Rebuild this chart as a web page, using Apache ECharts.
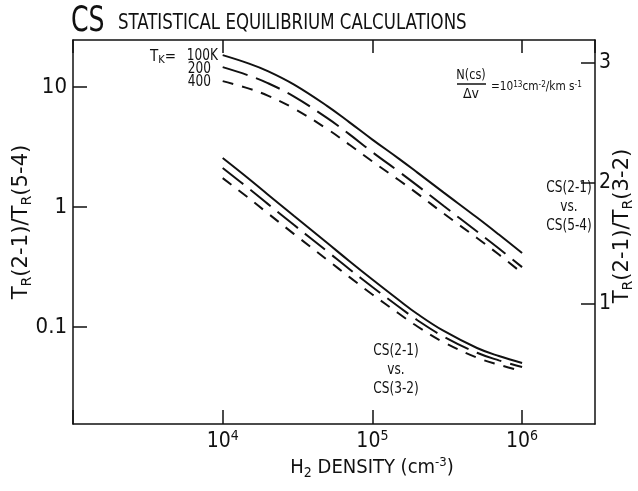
<!DOCTYPE html>
<html><head><meta charset="utf-8">
<script src="https://cdn.jsdelivr.net/npm/echarts@6/dist/echarts.min.js"></script>
<style>html,body{margin:0;padding:0;background:#fff}#c{width:638px;height:491px}</style>
</head><body><div id="c"></div>
<script>
// ---- data ----
const density = [1e4, 1.5e4, 2e4, 3e4, 5e4, 7e4, 1e5, 1.5e5, 2e5, 3e5, 5e5, 7e5, 1e6];
// CS(2-1) vs CS(5-4)  (left log axis)
const r54_100K = [18.48, 15.70, 13.60, 10.49, 6.945, 5.109, 3.652, 2.536, 1.939, 1.321, 0.818, 0.590, 0.414];
const r54_200K = [14.67, 12.47, 10.80, 8.33, 5.51, 4.06, 2.87, 1.98, 1.51, 1.02, 0.625, 0.451, 0.316];
const r54_400K = [11.22, 9.72, 8.50, 6.62, 4.47, 3.32, 2.40, 1.68, 1.295, 0.882, 0.552, 0.402, 0.282];
// CS(2-1) vs CS(3-2)  (right linear axis)
const r32_100K = [2.207, 2.033, 1.905, 1.726, 1.502, 1.353, 1.199, 1.029, 0.913, 0.772, 0.631, 0.564, 0.506];
const r32_200K = [2.124, 1.953, 1.827, 1.651, 1.432, 1.287, 1.137, 0.973, 0.861, 0.725, 0.591, 0.528, 0.473];
const r32_400K = [2.041, 1.873, 1.749, 1.576, 1.362, 1.221, 1.075, 0.917, 0.809, 0.678, 0.551, 0.492, 0.440];
const xTickExponents = [4, 5, 6];
const leftTickValues = [0.1, 1, 10];
const rightTickValues = [1, 2, 3];
const tempLabels = ['100K', '200', '400'];

const FONT = '"Liberation Sans Narrow","DejaVu Sans Condensed","Liberation Sans",sans-serif';
const BLACK = '#111';
const dash200 = [26, 9];
const dash400 = [11, 9];

function pair(ys) { return density.map((d, i) => [d, ys[i]]); }
function findTick(v, list) { return list.find(t => Math.abs(v - t) / t < 1e-6); }

const axisLineStyle = { color: BLACK, width: 1.5 };
const chart = echarts.init(document.getElementById('c'), null, { renderer: 'canvas' });

function curve(data, yIdx, dash) {
  return {
    type: 'line', data: pair(data), xAxisIndex: 0, yAxisIndex: yIdx,
    showSymbol: false, smooth: 0.4, silent: true,
    lineStyle: { color: BLACK, width: 2, type: dash }
  };
}

const option = {
  animation: false,
  backgroundColor: '#fff',
  textStyle: { fontFamily: FONT, color: BLACK },
  grid: { left: 73, right: 43, top: 40, bottom: 67, containLabel: false },
  xAxis: [
    {
      type: 'log', logBase: 10, min: 1000, max: 3.07e6, position: 'bottom',
      axisLine: { lineStyle: axisLineStyle },
      axisTick: { inside: true, length: 14, lineStyle: axisLineStyle },
      minorTick: { show: false }, splitLine: { show: false },
      axisLabel: {
        margin: 5, showMinLabel: false, showMaxLabel: false,
        formatter: v => {
          const e = Math.round(Math.log10(v));
          if (Math.abs(Math.log10(v) - e) > 1e-6 || xTickExponents.indexOf(e) < 0) return '';
          return '{b|10}{s|' + e + '}';
        },
        rich: {
          b: { fontFamily: FONT, fontSize: 21, color: BLACK, lineHeight: 23, verticalAlign: 'bottom' },
          s: { fontFamily: FONT, fontSize: 14, color: BLACK, lineHeight: 12, verticalAlign: 'top' }
        }
      }
    },
    {
      type: 'log', logBase: 10, min: 1000, max: 3.07e6, position: 'top',
      axisLine: { lineStyle: axisLineStyle },
      axisTick: { inside: true, length: 13, lineStyle: axisLineStyle },
      minorTick: { show: false }, splitLine: { show: false },
      axisLabel: { show: false }
    }
  ],
  yAxis: [
    {
      type: 'log', logBase: 10, min: 0.01556, max: 24.7, position: 'left',
      axisLine: { lineStyle: axisLineStyle },
      axisTick: { inside: true, length: 14, lineStyle: axisLineStyle },
      minorTick: { show: false }, splitLine: { show: false },
      axisLabel: {
        margin: 6, fontSize: 22, fontFamily: FONT, color: BLACK,
        showMinLabel: false, showMaxLabel: false,
        formatter: v => { const t = findTick(v, leftTickValues); return t === undefined ? '' : String(t); }
      }
    },
    {
      type: 'value', min: 0, max: 3.187, interval: 1, position: 'right',
      axisLine: { lineStyle: axisLineStyle },
      axisTick: { inside: true, length: 14, lineStyle: axisLineStyle },
      splitLine: { show: false },
      axisLabel: {
        margin: 4, fontSize: 21, fontFamily: FONT, color: BLACK,
        showMinLabel: false, showMaxLabel: false,
        formatter: v => rightTickValues.indexOf(v) >= 0 ? String(v) : ''
      }
    }
  ],
  series: [
    curve(r54_100K, 0, 'solid'),
    curve(r54_200K, 0, dash200),
    curve(r54_400K, 0, dash400),
    curve(r32_100K, 1, 'solid'),
    curve(r32_200K, 1, dash200),
    curve(r32_400K, 1, dash400)
  ],
  graphic: [
    // title
    { type: 'text', x: 71, y: 22, scaleX: 0.8, style: { text: 'CS', font: '35px ' + FONT, fill: BLACK, verticalAlign: 'middle' } },
    { type: 'text', x: 118, y: 23, scaleX: 0.84, style: { text: 'STATISTICAL EQUILIBRIUM CALCULATIONS', font: '22px ' + FONT, fill: BLACK, verticalAlign: 'middle' } },
    // temperature key
    { type: 'text', x: 150, y: 57, style: { text: 'T{s|K}=', fill: BLACK, font: '15px ' + FONT, verticalAlign: 'middle',
      rich: { s: { fontFamily: FONT, fontSize: 11, fill: BLACK, padding: [7, 0, 0, 0], verticalAlign: 'bottom' } } } },
    { type: 'text', x: 218, y: 56, scaleX: 0.9, style: { text: tempLabels[0], fill: BLACK, font: '15px ' + FONT, align: 'right', verticalAlign: 'middle' } },
    { type: 'text', x: 211, y: 69, scaleX: 0.9, style: { text: tempLabels[1], fill: BLACK, font: '15px ' + FONT, align: 'right', verticalAlign: 'middle' } },
    { type: 'text', x: 211, y: 82, scaleX: 0.9, style: { text: tempLabels[2], fill: BLACK, font: '15px ' + FONT, align: 'right', verticalAlign: 'middle' } },
    // column density note
    { type: 'text', x: 471, y: 75, scaleX: 0.9, style: { text: 'N(cs)', fill: BLACK, font: '14px ' + FONT, align: 'center', verticalAlign: 'middle' } },
    { type: 'line', shape: { x1: 457, y1: 84, x2: 486, y2: 84 }, style: { stroke: BLACK, lineWidth: 1.5 } },
    { type: 'text', x: 471, y: 94, style: { text: 'Δv', fill: BLACK, font: '14px ' + FONT, align: 'center', verticalAlign: 'middle' } },
    { type: 'text', x: 491, y: 87, scaleX: 0.9, style: { text: '=10{s|13}cm{s|-2}/km s{s|-1}', fill: BLACK, font: '13px ' + FONT, verticalAlign: 'middle',
      rich: { s: { fontFamily: FONT, fontSize: 9, fill: BLACK, verticalAlign: 'top', lineHeight: 9 } } } },
    // curve group labels
    { type: 'text', x: 569, y: 207, scaleX: 0.9, style: { text: 'CS(2-1)\nvs.\nCS(5-4)', fill: BLACK, font: '15px ' + FONT, align: 'center', verticalAlign: 'middle', lineHeight: 19 } },
    { type: 'text', x: 396, y: 370, scaleX: 0.9, style: { text: 'CS(2-1)\nvs.\nCS(3-2)', fill: BLACK, font: '15px ' + FONT, align: 'center', verticalAlign: 'middle', lineHeight: 19 } },
    // axis names
    { type: 'text', x: 372, y: 468, style: { text: 'H{sub|2} DENSITY (cm{sup|-3})', fill: BLACK, font: '20px ' + FONT, align: 'center', verticalAlign: 'middle',
      rich: {
        sub: { fontFamily: FONT, fontSize: 14, fill: BLACK, padding: [10, 0, 0, 0], verticalAlign: 'bottom' },
        sup: { fontFamily: FONT, fontSize: 13, fill: BLACK, verticalAlign: 'top', lineHeight: 13 }
      } } },
    { type: 'text', x: 22, y: 222, rotation: Math.PI / 2, scaleX: 1.12, style: { text: 'T{sub|R}(2-1)/T{sub|R}(5-4)', fill: BLACK, font: '21px ' + FONT, align: 'center', verticalAlign: 'middle',
      rich: { sub: { fontFamily: FONT, fontSize: 14, fill: BLACK, padding: [10, 0, 0, 0], verticalAlign: 'bottom' } } } },
    { type: 'text', x: 623, y: 226, rotation: Math.PI / 2, scaleX: 1.12, style: { text: 'T{sub|R}(2-1)/T{sub|R}(3-2)', fill: BLACK, font: '21px ' + FONT, align: 'center', verticalAlign: 'middle',
      rich: { sub: { fontFamily: FONT, fontSize: 14, fill: BLACK, padding: [10, 0, 0, 0], verticalAlign: 'bottom' } } } }
  ]
};
chart.setOption(option);
</script></body></html>
